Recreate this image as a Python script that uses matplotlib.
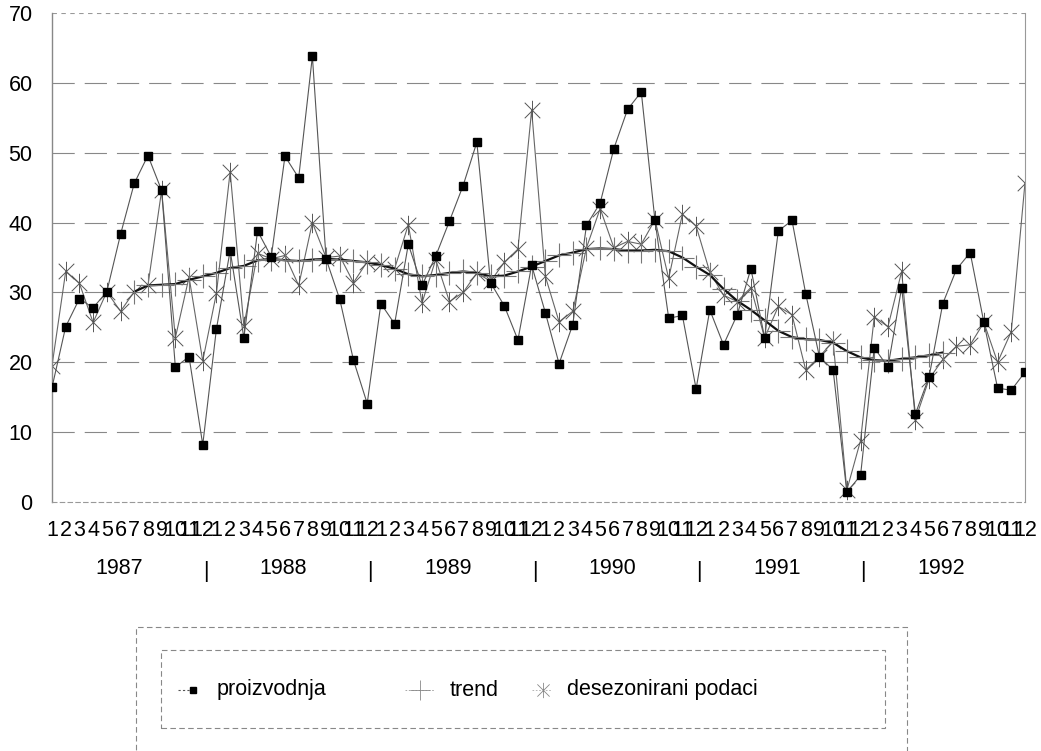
import numpy as np
import matplotlib
matplotlib.use("Agg")
import matplotlib.pyplot as plt
from matplotlib.path import Path
from matplotlib.lines import Line2D
from matplotlib.patches import Rectangle

plt.rcParams['font.family'] = ['Liberation Sans', 'DejaVu Sans']

years = ['1987', '1988', '1989', '1990', '1991', '1992']
month_labels = [str(m) for m in range(1, 13)] * 6

proizvodnja = [16.4, 25.1, 29.1, 27.8, 30.1, 38.3, 45.6, 49.6, 44.6, 19.3, 20.8, 8.2,
               24.8, 36.0, 23.5, 38.8, 35.1, 49.5, 46.4, 63.8, 34.8, 29.0, 20.3, 14.1,
               28.4, 25.5, 36.9, 31.0, 35.2, 40.2, 45.3, 51.5, 31.4, 28.1, 23.2, 33.9,
               27.1, 19.8, 25.4, 39.6, 42.8, 50.6, 56.2, 58.7, 40.3, 26.3, 26.7, 16.2,
               27.5, 22.5, 26.8, 33.4, 23.5, 38.8, 40.3, 29.8, 20.8, 18.9, 1.4, 3.8,
               22.1, 19.3, 30.7, 12.6, 17.9, 28.4, 33.3, 35.7, 25.7, 16.3, 16.0, 18.6]

desezonirani = [19.5, 33.0, 31.3, 25.7, 30.1, 27.3, 30.1, 31.0, 44.6, 23.5, 32.2, 20.2,
                29.9, 47.3, 25.2, 35.6, 34.8, 35.3, 31.0, 40.0, 35.0, 35.2, 31.4, 34.4,
                34.0, 33.4, 39.7, 28.5, 34.7, 28.7, 30.0, 32.8, 31.6, 34.3, 36.2, 56.1,
                32.3, 25.8, 27.3, 36.4, 42.0, 36.4, 37.3, 36.9, 40.4, 32.0, 41.2, 39.5,
                32.9, 29.6, 28.7, 30.7, 23.5, 28.0, 26.8, 18.9, 20.8, 23.0, 1.7, 8.8,
                26.5, 25.1, 33.0, 11.8, 17.6, 20.4, 22.3, 22.5, 25.7, 20.0, 24.4, 45.7]

# 12-month centred trend, months 7 .. 66
trend_start = 6
trend = [30.1, 31.0, 31.1, 31.2, 31.8, 32.3, 32.8, 33.5, 33.8, 34.6, 34.8, 34.6,
         34.5, 34.7, 34.8, 34.7, 34.5, 34.3, 33.9, 33.4, 32.6, 32.3, 32.5, 32.8,
         33.0, 32.8, 32.3, 32.4, 33.0, 33.7, 34.5, 35.3, 35.7, 36.2, 36.3, 36.2,
         36.0, 36.0, 36.1, 35.9, 35.0, 33.7, 32.5, 30.5, 28.8, 27.5, 26.0, 24.5,
         23.6, 23.3, 23.2, 22.8, 21.6, 20.7, 20.3, 20.2, 20.5, 20.7, 21.0, 21.4]

W, H = 1041, 751
fig = plt.figure(figsize=(W / 100, H / 100), dpi=100)
ax = fig.add_axes([52 / W, 1 - 502 / H, (1025 - 52) / W, (502 - 13) / H])

x = np.arange(len(proizvodnja))
xt = np.arange(trend_start, trend_start + len(trend))

# asterisk marker (X + vertical bar, Excel style)
ast = Path([(-1, -1), (1, 1), (-1, 1), (1, -1), (0, -1.25), (0, 1.25)],
           [Path.MOVETO, Path.LINETO, Path.MOVETO, Path.LINETO, Path.MOVETO, Path.LINETO])

ax.plot(x, proizvodnja, color='#555555', lw=0.8, marker='s', ms=6,
        mfc='black', mec='black', zorder=4)
ax.plot(xt, trend, color='#111111', lw=1.6, marker='+', ms=17, mew=0.8,
        mec='#777777', zorder=3)
ax.plot(x, desezonirani, color='#666666', lw=0.8, marker=ast, ms=14, mew=0.7,
        mec='#555555', zorder=2)

FS = 15.5
ax.set_xlim(0, 71)
ax.set_ylim(0, 70)
ax.set_yticks(range(0, 71, 10))
ax.tick_params(axis='y', length=0, labelsize=FS, pad=14)
ax.set_xticks(x)
ax.set_xticklabels(month_labels)
ax.tick_params(axis='x', length=0, labelsize=FS, pad=13)

for yv in range(10, 70, 10):
    ax.axhline(yv, color='#888888', lw=0.8, dashes=(20, 9), zorder=1)
ax.axhline(70, color='#999999', lw=0.8, dashes=(4, 4), zorder=1)

ax.spines['top'].set_visible(False)
ax.spines['right'].set_color('#999999')
ax.spines['right'].set_linewidth(0.8)
ax.spines['left'].set_color('#888888')
ax.spines['left'].set_linewidth(1.0)
ax.spines['bottom'].set_color('#999999')
ax.spines['bottom'].set_linewidth(0.8)
ax.spines['bottom'].set_linestyle((0, (4, 3)))

trans = ax.get_xaxis_transform()
for i, yr in enumerate(years):
    ax.text(4.9 + 12 * i, 1 - (568 - 13) / 489, yr, transform=trans,
            ha='center', va='center', fontsize=FS)
for i in range(5):
    ax.text(11.2 + 12 * i, 1 - (572 - 13) / 489, '|', transform=trans,
            ha='center', va='center', fontsize=FS)

# legend
def fx(px):
    return px / W

def fy(py):
    return 1 - py / H

fig.add_artist(Rectangle((fx(136), fy(760)), fx(907) - fx(136), fy(627) - fy(760),
                         transform=fig.transFigure, fill=False, ec='#888888', lw=0.8,
                         ls=(0, (5, 3)), clip_on=False))
fig.add_artist(Rectangle((fx(161), fy(728)), fx(885) - fx(161), fy(650) - fy(728),
                         transform=fig.transFigure, fill=False, ec='#888888', lw=0.8,
                         ls=(0, (5, 3))))
ly = fy(690)
fig.add_artist(Line2D([fx(178), fx(190)], [ly, ly], transform=fig.transFigure,
                      color='#555555', lw=0.8, ls=(0, (2, 2))))
fig.add_artist(Line2D([fx(193)], [ly], transform=fig.transFigure, marker='s', ms=5,
                      mfc='black', mec='black', ls='none'))
fig.text(fx(217), ly, 'proizvodnja', fontsize=FS, va='center', ha='left')

fig.add_artist(Line2D([fx(405), fx(435)], [ly, ly], transform=fig.transFigure,
                      color='#999999', lw=0.6, ls=(0, (2, 2))))
fig.add_artist(Line2D([fx(420)], [ly], transform=fig.transFigure, marker='+', ms=14,
                      mew=0.6, mec='#888888', ls='none'))
fig.text(fx(450), ly, 'trend', fontsize=FS, va='center', ha='left')

fig.add_artist(Line2D([fx(532), fx(552)], [ly, ly], transform=fig.transFigure,
                      color='#aaaaaa', lw=0.6, ls=(0, (2, 2))))
fig.add_artist(Line2D([fx(543)], [ly], transform=fig.transFigure, marker=ast, ms=11,
                      mew=0.6, mec='#888888', ls='none'))
fig.text(fx(567), ly, 'desezonirani podaci', fontsize=FS, va='center', ha='left')

fig.savefig('out.png', dpi=100, facecolor='white')
